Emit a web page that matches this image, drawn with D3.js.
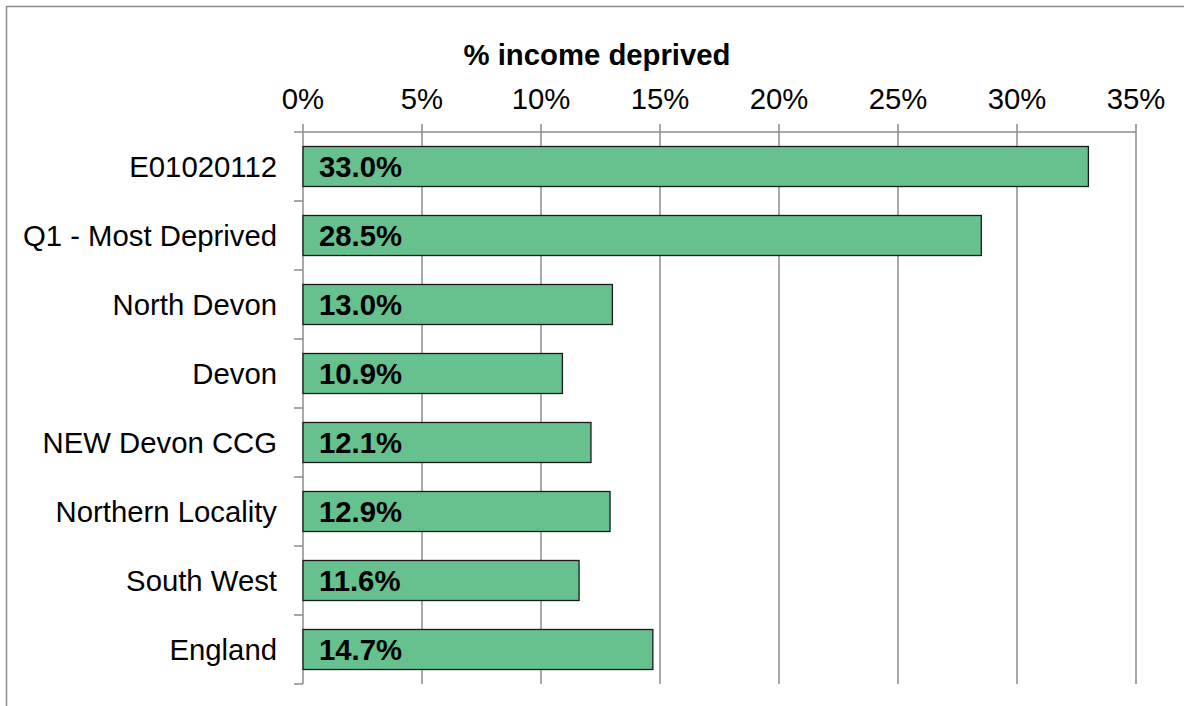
<!DOCTYPE html>
<html><head><meta charset="utf-8">
<script src="https://cdn.jsdelivr.net/npm/d3@7"></script>
<style>body{margin:0;background:#fff;overflow:hidden;}svg{display:block;font-family:"Liberation Sans",Arial,sans-serif;}</style>
</head><body>
<svg id="c" width="1184" height="706"></svg>
<script>
const categories = ["E01020112","Q1 - Most Deprived","North Devon","Devon","NEW Devon CCG","Northern Locality","South West","England"];
const values = [33.0,28.5,13.0,10.9,12.1,12.9,11.6,14.7];
const tickValues = [0,5,10,15,20,25,30,35];
const title = "% income deprived";

const FS = 29.3;
const svg = d3.select("#c");
svg.append("rect").attr("x",6.5).attr("y",6.5).attr("width",1190).attr("height",720)
  .attr("fill","#fff").attr("stroke","#8c8c8c").attr("stroke-width",1.5);

const pL=303, pR=1136, pT=132, pB=684;
const x = d3.scaleLinear().domain([0,35]).range([pL,pR]);
const y = d3.scaleBand().domain(categories).range([pT,pB]).paddingInner(0.42).paddingOuter(0.21);

svg.append("g").selectAll("line").data(tickValues).join("line")
  .attr("x1",d=>x(d)).attr("x2",d=>x(d)).attr("y1",pT-8).attr("y2",pB)
  .attr("stroke","#8c8c8c").attr("stroke-width",1.5);
svg.append("line").attr("x1",pL).attr("x2",pR).attr("y1",pT).attr("y2",pT)
  .attr("stroke","#8c8c8c").attr("stroke-width",1.5);
const bandStep = (pB-pT)/categories.length;
const yTicks = d3.range(categories.length+1).map(i=>pT+i*bandStep);
svg.append("g").selectAll("line").data(yTicks).join("line")
  .attr("x1",pL-9).attr("x2",pL).attr("y1",d=>d).attr("y2",d=>d)
  .attr("stroke","#8c8c8c").attr("stroke-width",1.5);

svg.append("g").selectAll("text").data(tickValues).join("text")
  .attr("x",d=>x(d)).attr("y",109).attr("text-anchor","middle")
  .attr("font-size",FS).attr("fill","#000").text(d=>d+"%");

svg.append("text").attr("x",597).attr("y",65).attr("text-anchor","middle")
  .attr("font-size",FS).attr("font-weight","bold").text(title);

const data = categories.map((c,i)=>({c,v:values[i]}));
svg.append("g").selectAll("rect").data(data).join("rect")
  .attr("x",x(0)).attr("y",d=>y(d.c)).attr("width",d=>x(d.v)-x(0)).attr("height",y.bandwidth())
  .attr("fill","#66c18e").attr("stroke","#1a1a1a").attr("stroke-width",1.3);

svg.append("g").selectAll("text").data(data).join("text")
  .attr("x",x(0)+16).attr("y",d=>y(d.c)+y.bandwidth()/2+10)
  .attr("font-size",FS).attr("font-weight","bold").text(d=>d.v.toFixed(1)+"%");

svg.append("g").selectAll("text").data(data).join("text")
  .attr("x",277).attr("y",d=>y(d.c)+y.bandwidth()/2+10).attr("text-anchor","end")
  .attr("font-size",FS).text(d=>d.c);
</script>
</body></html>
